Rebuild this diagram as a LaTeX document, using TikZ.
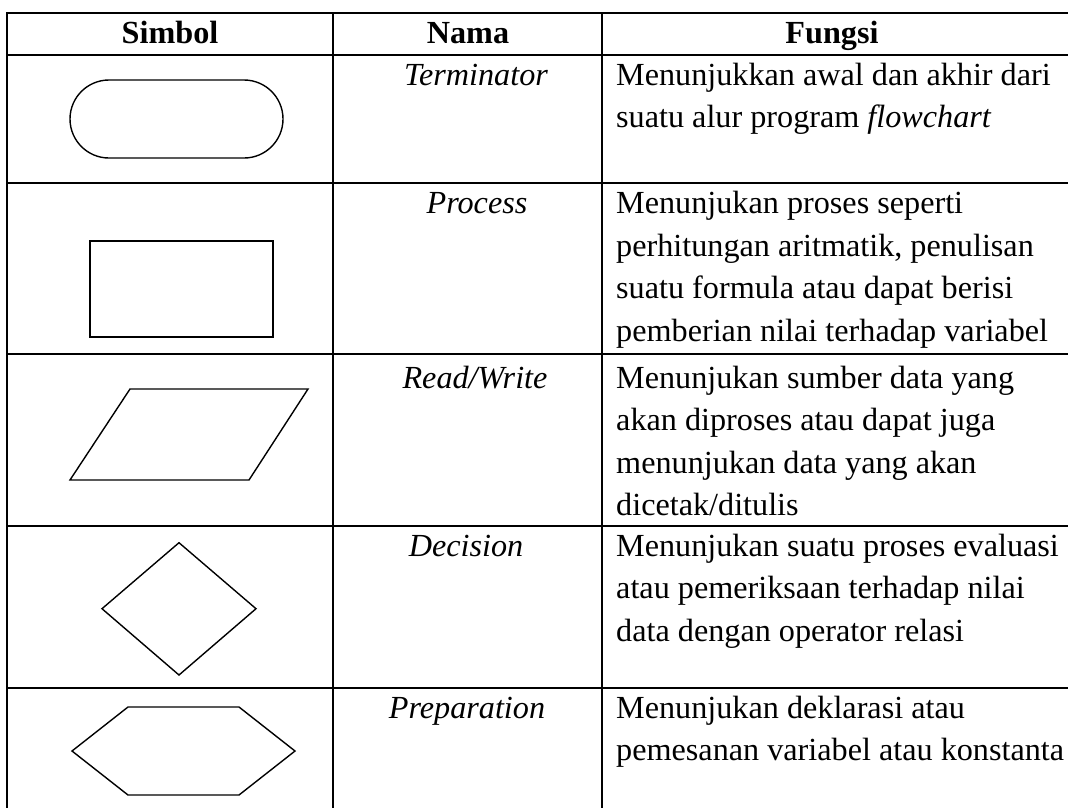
\documentclass[tikz,border=0pt]{standalone}
\usepackage{fontspec}
\setmainfont{Liberation Serif}
\begin{document}
\begin{tikzpicture}[x=1pt,y=-1pt,
  grid/.style={line width=2pt,line cap=rect},
  sym/.style={line width=1.4pt,line join=miter},
  head/.style={font=\fontsize{32.2}{40}\selectfont\bfseries,inner sep=0,anchor=base},
  nama/.style={font=\fontsize{32.2}{40}\selectfont\itshape,inner sep=0,anchor=base},
  fn/.style={font=\fontsize{32.2}{40}\selectfont,inner sep=0,anchor=base west}]
\useasboundingbox (0,0) rectangle (1068,807);
% table grid
\foreach \yy in {13,55,183,354,525.7,688}
  \draw[grid] (7,\yy) -- (1072,\yy);
\foreach \xx in {7,333,602}
  \draw[grid] (\xx,13) -- (\xx,812);
% header
\node[head] (hsimbol) at (170,43) {Simbol};
\node[head] (hnama) at (468,43) {Nama};
\node[head] (hfungsi) at (832,43) {Fungsi};
% symbols
\draw[sym,rounded corners=39pt] (70,80) rectangle (283,158);
\draw[sym] (90,241) rectangle (273,337);
\draw[sym] (130,389) -- (308,389) -- (249,480) -- (70,480) -- cycle;
\draw[sym] (179,542.7) -- (256,608.7) -- (179,675) -- (102,608.7) -- cycle;
\draw[sym] (128,707) -- (239,707) -- (295,751) -- (239,795) -- (128,795) -- (72,751) -- cycle;
% names
\node[nama] (nterm) at (476,85) {Terminator};
\node[nama] (nproc) at (477,213.5) {Process};
\node[nama] (nrw) at (475,388) {Read/Write};
\node[nama] (ndec) at (466,556) {Decision};
\node[nama] (nprep) at (467,718) {Preparation};
% functions
\node[fn] (f1a) at (616,85) {Menunjukkan awal dan akhir dari};
\node[fn] (f1b) at (616,127.5) {suatu alur program \textit{flowchart}};
\node[fn] (f2a) at (616,213.5) {Menunjukan proses seperti};
\node[fn] (f2b) at (616,256) {perhitungan aritmatik, penulisan};
\node[fn] (f2c) at (616,298.5) {suatu formula atau dapat berisi};
\node[fn] (f2d) at (616,341) {pemberian nilai terhadap variabel};
\node[fn] (f3a) at (616,388) {Menunjukan sumber data yang};
\node[fn] (f3b) at (616,430.5) {akan diproses atau dapat juga};
\node[fn] (f3c) at (616,473) {menunjukan data yang akan};
\node[fn] (f3d) at (616,515.5) {dicetak/ditulis};
\node[fn] (f4a) at (616,556) {Menunjukan suatu proses evaluasi};
\node[fn] (f4b) at (616,598.5) {atau pemeriksaan terhadap nilai};
\node[fn] (f4c) at (616,641) {data dengan operator relasi};
\node[fn] (f5a) at (616,718) {Menunjukan deklarasi atau};
\node[fn] (f5b) at (616,760.5) {pemesanan variabel atau konstanta};
\end{tikzpicture}
\end{document}
